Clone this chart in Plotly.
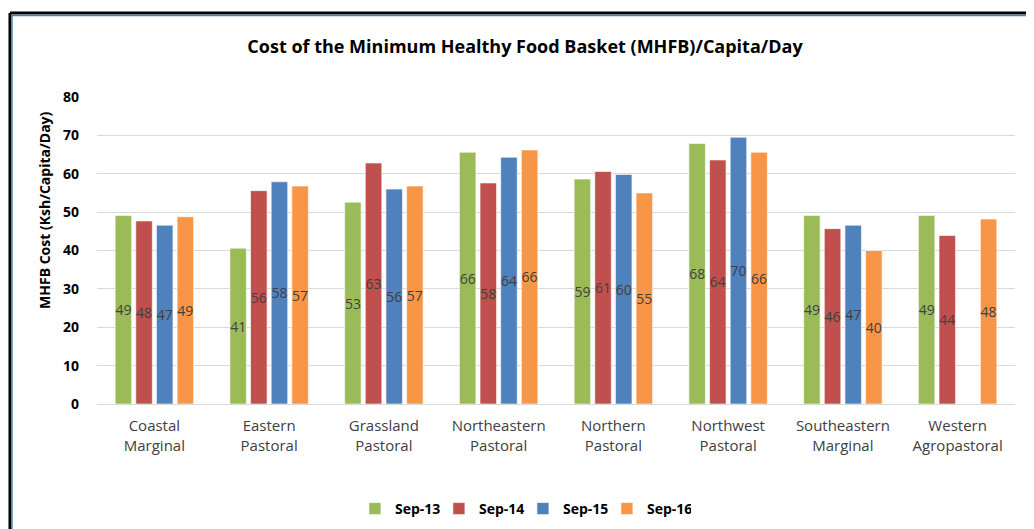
import plotly.graph_objects as go

categories = ["Coastal<br>Marginal", "Eastern<br>Pastoral", "Grassland<br>Pastoral",
              "Northeastern<br>Pastoral", "Northern<br>Pastoral", "Northwest<br>Pastoral",
              "Southeastern<br>Marginal", "Western<br>Agropastoral"]
series_names = ["Sep-13", "Sep-14", "Sep-15", "Sep-16"]
sep13 = [49.1, 40.6, 52.6, 65.6, 58.6, 67.9, 49.1, 49.1]
sep14 = [47.7, 55.6, 62.8, 57.6, 60.6, 63.6, 45.7, 43.9]
sep15 = [46.6, 57.9, 56.0, 64.3, 59.8, 69.5, 46.6, None]
sep16 = [48.8, 56.8, 56.8, 66.2, 55.0, 65.6, 40.0, 48.2]
colors = ["#9BBB59", "#C0504D", "#4F81BD", "#F79646"]

FONT = "'Open Sans', sans-serif"

fig = go.Figure()
for name, vals, col in zip(series_names, [sep13, sep14, sep15, sep16], colors):
    fig.add_trace(go.Bar(
        x=categories, y=vals, name=name,
        marker=dict(color=col, line=dict(color="rgba(255,255,255,0.6)", width=1)),
        texttemplate="%{y:.0f}", textposition="inside", insidetextanchor="middle",
        textangle=0, textfont=dict(color="#404040", size=14, family=FONT),
        cliponaxis=False,
    ))

fig.update_layout(
    width=1034, height=529,
    margin=dict(l=89, r=27, t=89, b=133),
    paper_bgcolor="white", plot_bgcolor="white",
    barmode="group", bargap=0.28, bargroupgap=0.2,
    uniformtext=dict(minsize=14, mode="show"),
    title=dict(text="<b>Cost of the Minimum Healthy Food Basket (MHFB)/Capita/Day</b>",
               x=0.5, xanchor="center", y=0.926, yanchor="middle",
               font=dict(family=FONT, size=18, color="#000000")),
    font=dict(family=FONT, color="#404040"),
    showlegend=True,
    legend=dict(orientation="h", x=0.498, xanchor="center", xref="container",
                y=0.053, yanchor="middle", yref="container",
                font=dict(family=FONT, size=14, color="#000000", weight="bold"),
                itemwidth=30, traceorder="normal",
                entrywidth=39, entrywidthmode="pixels"),
    yaxis=dict(range=[0, 80], dtick=10, showgrid=True, gridcolor="#D9D9D9", gridwidth=1,
               zeroline=True, zerolinecolor="#D9D9D9", zerolinewidth=1,
               tickfont=dict(family=FONT, size=14, color="#000000", weight="bold"),
               ticks="", ticklabelstandoff=17, automargin=False),
    xaxis=dict(showgrid=False, ticks="", showline=True, linecolor="#D9D9D9",
               ticklabelstandoff=8,
               tickfont=dict(family=FONT, size=15, color="#404040"), automargin=False),
)

fig.add_annotation(text="<b>MHFB Cost (Ksh/Capita/Day)</b>", textangle=-90,
                   xref="paper", yref="paper", x=-0.0566, y=0.629,
                   xanchor="center", yanchor="middle", showarrow=False,
                   font=dict(family=FONT, size=14, color="#000000"))

# frame lines (black outer, blue inner) at top-left
fig.add_shape(type="line", xref="paper", yref="paper", x0=-0.0948, x1=1.05, y0=1.2736, y1=1.2736,
              line=dict(color="black", width=3))
fig.add_shape(type="line", xref="paper", yref="paper", x0=-0.0948, x1=-0.0948, y0=-0.5, y1=1.2736,
              line=dict(color="black", width=3))
fig.add_shape(type="line", xref="paper", yref="paper", x0=-0.0926, x1=1.05, y0=1.2655, y1=1.2655,
              line=dict(color="#4F81BD", width=1.5))
fig.add_shape(type="line", xref="paper", yref="paper", x0=-0.0926, x1=-0.0926, y0=-0.5, y1=1.2655,
              line=dict(color="#4F81BD", width=1.5))

fig.write_html("out.html")
